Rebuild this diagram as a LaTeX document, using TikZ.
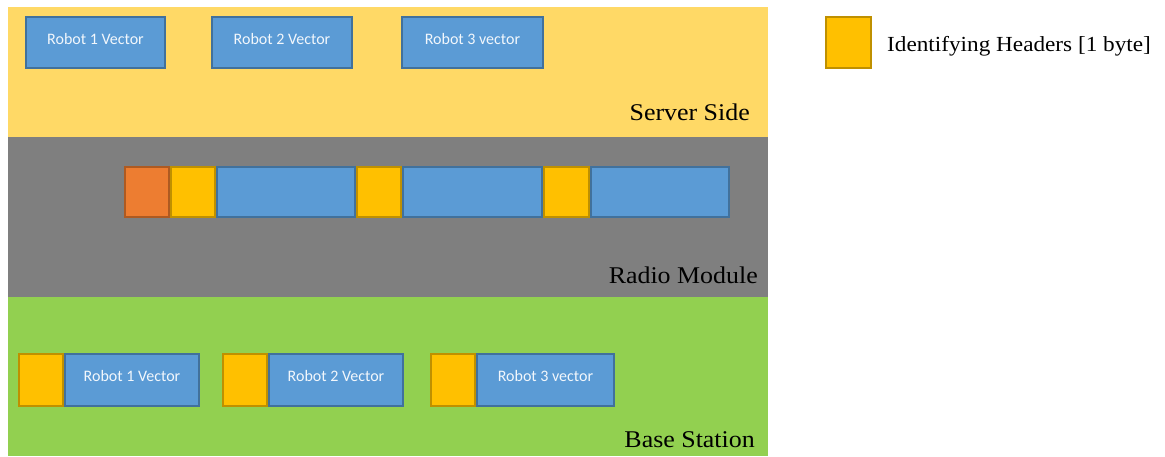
\documentclass[tikz,border=0pt]{standalone}
\usepackage{fontspec}
\setmainfont[FakeStretch=1.08]{Liberation Serif}
\newfontfamily\boxfont{Carlito}
\definecolor{bandyellow}{HTML}{FFD966}
\definecolor{bandgray}{HTML}{7F7F7F}
\definecolor{bandgreen}{HTML}{92D050}
\definecolor{vecblue}{HTML}{5B9BD5}
\definecolor{vecborder}{HTML}{41719C}
\definecolor{hdrfill}{HTML}{FFC000}
\definecolor{hdrborder}{HTML}{BF9000}
\definecolor{orgfill}{HTML}{ED7D31}
\definecolor{orgborder}{HTML}{AE5A21}
\tikzset{
  band/.style={draw=none, rectangle, inner sep=0pt, anchor=north west},
  vecbox/.style={draw=vecborder, fill=vecblue, line width=2pt, rectangle, inner sep=0pt,
    text=white!92!vecblue, font=\boxfont\fontsize{16}{18}\selectfont},
  hdrbox/.style={draw=hdrborder, fill=hdrfill, line width=2pt, rectangle, inner sep=0pt},
  orgbox/.style={draw=orgborder, fill=orgfill, line width=2pt, rectangle, inner sep=0pt},
  bandlabel/.style={anchor=base east, inner sep=0pt, font=\fontsize{24}{28}\selectfont, text=black},
}
\newcommand{\up}[1]{\raisebox{8pt}{#1}}
\begin{document}
\begin{tikzpicture}[x=1pt,y=-1pt]
\useasboundingbox (0,0) rectangle (1165,456);
% bands
\fill[bandyellow] (8,7) rectangle (768,137);
\fill[bandgray] (8,137) rectangle (768,297);
\fill[bandgreen] (8,297) rectangle (768,456);
% server side
\node[vecbox, minimum width=139pt, minimum height=51pt] (s1) at (95.5,42.5) {\up{Robot 1 Vector}};
\node[vecbox, minimum width=140pt, minimum height=51pt] (s2) at (282,42.5) {\up{Robot 2 Vector}};
\node[vecbox, minimum width=141pt, minimum height=51pt] (s3) at (472.5,42.5) {\up{Robot 3 vector}};
\node[bandlabel] (lserver) at (750,120) {Server Side};
% radio module
\node[orgbox, minimum width=44pt, minimum height=50pt] (r0) at (147,192) {};
\node[hdrbox, minimum width=44pt, minimum height=50pt] (rh1) at (193,192) {};
\node[vecbox, minimum width=138pt, minimum height=50pt] (rv1) at (286,192) {};
\node[hdrbox, minimum width=44pt, minimum height=50pt] (rh2) at (379,192) {};
\node[vecbox, minimum width=139pt, minimum height=50pt] (rv2) at (472.5,192) {};
\node[hdrbox, minimum width=45pt, minimum height=50pt] (rh3) at (566.5,192) {};
\node[vecbox, minimum width=138pt, minimum height=50pt] (rv3) at (660,192) {};
\node[bandlabel] (lradio) at (758,283) {Radio Module};
% base station
\node[hdrbox, minimum width=44pt, minimum height=52pt] (bh1) at (41,380) {};
\node[vecbox, minimum width=134pt, minimum height=52pt] (bv1) at (132,380) {\up{Robot 1 Vector}};
\node[hdrbox, minimum width=44pt, minimum height=52pt] (bh2) at (245,380) {};
\node[vecbox, minimum width=134pt, minimum height=52pt] (bv2) at (336,380) {\up{Robot 2 Vector}};
\node[hdrbox, minimum width=44pt, minimum height=52pt] (bh3) at (453,380) {};
\node[vecbox, minimum width=137pt, minimum height=52pt] (bv3) at (545.5,380) {\up{Robot 3 vector}};
\node[bandlabel] (lbase) at (755,447) {Base Station};
% legend
\node[hdrbox, minimum width=45pt, minimum height=51pt] (leg) at (848.5,42.5) {};
\node[anchor=west, inner sep=0pt, font=\fontsize{21.5}{24}\selectfont] (legtext) at (887,46) {Identifying Headers [1 byte]};
\end{tikzpicture}
\end{document}
